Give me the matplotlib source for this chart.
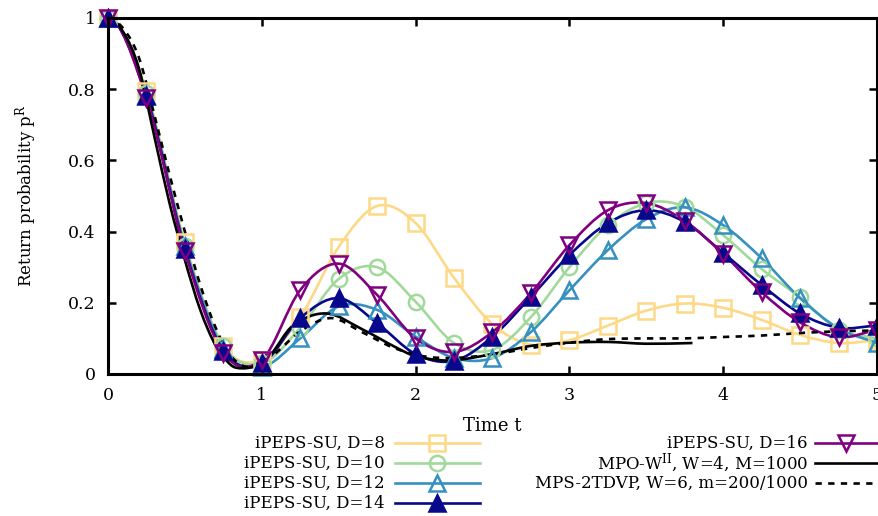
import numpy as np
import matplotlib
matplotlib.use('Agg')
import matplotlib.pyplot as plt
from matplotlib.path import Path
from matplotlib.patches import PathPatch
from matplotlib.lines import Line2D

plt.rcParams['font.family'] = 'DejaVu Serif'
plt.rcParams['mathtext.fontset'] = 'dejavuserif'

# iPEPS-SU data, sampled every 0.25 in time
t_su = [0, 0.25, 0.5, 0.75, 1.0, 1.25, 1.5, 1.75, 2.0, 2.25, 2.5,
        2.75, 3.0, 3.25, 3.5, 3.75, 4.0, 4.25, 4.5, 4.75, 5.0]
p_d8 = [1.0, 0.795, 0.37, 0.08, 0.04, 0.16, 0.357, 0.472, 0.424, 0.27, 0.14,
        0.082, 0.095, 0.136, 0.178, 0.198, 0.186, 0.152, 0.11, 0.087, 0.095]
p_d10 = [1.0, 0.79, 0.36, 0.08, 0.03, 0.13, 0.267, 0.30, 0.203, 0.087, 0.068,
         0.16, 0.30, 0.418, 0.48, 0.47, 0.39, 0.295, 0.215, 0.125, 0.10]
p_d12 = [1.0, 0.785, 0.36, 0.07, 0.02, 0.10, 0.19, 0.18, 0.105, 0.045, 0.045,
         0.118, 0.235, 0.348, 0.435, 0.468, 0.418, 0.325, 0.213, 0.128, 0.087]
p_d14 = [1.0, 0.78, 0.35, 0.065, 0.03, 0.157, 0.213, 0.143, 0.056, 0.037, 0.105,
         0.217, 0.334, 0.424, 0.46, 0.427, 0.34, 0.25, 0.17, 0.13, 0.136]
p_d16 = [1.0, 0.775, 0.345, 0.06, 0.04, 0.236, 0.31, 0.222, 0.10, 0.062, 0.118,
         0.227, 0.362, 0.46, 0.48, 0.43, 0.337, 0.23, 0.145, 0.103, 0.124]

# MPO-W^II, W=4, M=1000
t_mpo = [0, 0.1, 0.2, 0.3, 0.4, 0.5, 0.6, 0.7, 0.8, 0.87, 0.95, 1.05, 1.2,
         1.42, 1.66, 1.88, 2.0, 2.22, 2.5, 2.75, 3.0, 3.25, 3.5, 3.8]
p_mpo = [1.0, 0.96, 0.86, 0.67, 0.48, 0.32, 0.18, 0.08, 0.025, 0.016,
         0.022, 0.05, 0.135, 0.17, 0.124, 0.073, 0.05, 0.038, 0.056, 0.079,
         0.088, 0.09, 0.085, 0.087]

# MPS-2TDVP, W=6, m=200/1000
t_mps = [0, 0.1, 0.2, 0.3, 0.4, 0.5, 0.6, 0.7, 0.8, 0.9, 1.0, 1.1, 1.25,
         1.45, 1.65, 1.85, 2.05, 2.25, 2.5, 2.75, 3.0, 3.25, 3.5, 3.75,
         4.0, 4.25, 4.5, 4.75, 5.0]
p_mps = [1.0, 0.97, 0.89, 0.73, 0.56, 0.40, 0.25, 0.13, 0.05, 0.02, 0.03,
         0.062, 0.12, 0.157, 0.118, 0.075, 0.05, 0.045, 0.055, 0.073, 0.088,
         0.098, 0.10, 0.10, 0.104, 0.108, 0.115, 0.12, 0.122]

labels = ['iPEPS-SU, D=8', 'iPEPS-SU, D=10', 'iPEPS-SU, D=12',
          'iPEPS-SU, D=14', 'iPEPS-SU, D=16',
          r'MPO-W$^{\mathrm{II}}$, W=4, M=1000',
          'MPS-2TDVP, W=6, m=200/1000']
colors = ['#fdd987', '#a1d99b', '#3690c0', '#08088c', '#800080', 'black', 'black']
markers = ['s', 'o', '^', '^', 'v', None, None]
filled = [False, False, False, True, False, False, False]
styles = ['-', '-', '-', '-', '-', '-', (0, (2.4, 2.4))]
series_t = [t_su, t_su, t_su, t_su, t_su, t_mpo, t_mps]
series_p = [p_d8, p_d10, p_d12, p_d14, p_d16, p_mpo, p_mps]


def smooth_path(t, p):
    # cubic Hermite curve through the data points, drawn as Bezier segments
    t = np.asarray(t, float)
    p = np.asarray(p, float)
    n = len(t)
    m = np.zeros(n)
    for i in range(1, n):
        a = i - 1
        b = min(i + 1, n - 1)
        m[i] = (p[b] - p[a]) / (t[b] - t[a])
    # p(t) starts flat at t=0
    m[0] = 0.0
    verts = [(t[0], p[0])]
    codes = [Path.MOVETO]
    for i in range(n - 1):
        h = t[i + 1] - t[i]
        verts += [(t[i] + h / 3, p[i] + m[i] * h / 3),
                  (t[i + 1] - h / 3, p[i + 1] - m[i + 1] * h / 3),
                  (t[i + 1], p[i + 1])]
        codes += [Path.CURVE4] * 3
    return Path(verts, codes)


W, H = 879, 516
fig = plt.figure(figsize=(W / 100, H / 100), dpi=100)
ax = fig.add_axes([108 / W, 1 - 374 / H, 769 / W, 356 / H])

lw = 1.9
for t, p, c, mk, fl, ls in zip(series_t, series_p, colors, markers, filled, styles):
    ax.add_patch(PathPatch(smooth_path(t, p), facecolor='none', edgecolor=c,
                           lw=lw, linestyle=ls, clip_on=True))
    if mk:
        ax.plot(t, p, linestyle='none', marker=mk, ms=11, mew=1.8,
                mec=c, mfc=c if fl else 'none', clip_on=False)

ax.set_xlim(0, 5)
ax.set_ylim(0, 1)
ax.set_xticks([0, 1, 2, 3, 4, 5])
ax.set_yticks([0, 0.2, 0.4, 0.6, 0.8, 1.0])
ax.set_yticklabels(['0', '0.2', '0.4', '0.6', '0.8', '1'])
ax.tick_params(direction='in', length=6, width=1.8, labelsize=12.5,
               top=True, right=True, pad=9)
for s in ax.spines.values():
    s.set_linewidth(2.2)
ax.set_xlabel('Time t', fontsize=13, labelpad=10)
ax.set_ylabel(r'Return probability p$^{\mathrm{R}}$', fontsize=12, labelpad=21)

# key at the bottom, gnuplot style: label right-justified, sample to the right
rows = [443, 463, 483, 503]
slots = [(0, 0), (0, 1), (0, 2), (0, 3), (1, 0), (1, 1), (1, 2)]
cols = [(385, 395, 480), (808, 815, 878)]
for (ci, ri), lab, c, mk, fl, ls in zip(slots, labels, colors, markers, filled, styles):
    tx, x0, x1 = cols[ci]
    y = 1 - rows[ri] / H
    fig.text(tx / W, y, lab, ha='right', va='center', fontsize=12)
    fig.add_artist(Line2D([x0 / W, x1 / W], [y, y], color=c, lw=lw, linestyle=ls))
    if mk:
        fig.add_artist(Line2D([(x0 + x1) / 2 / W], [y], marker=mk, ms=11, mew=1.8,
                              mec=c, mfc=c if fl else 'none', linestyle='none'))

fig.savefig('out.png', dpi=100)
